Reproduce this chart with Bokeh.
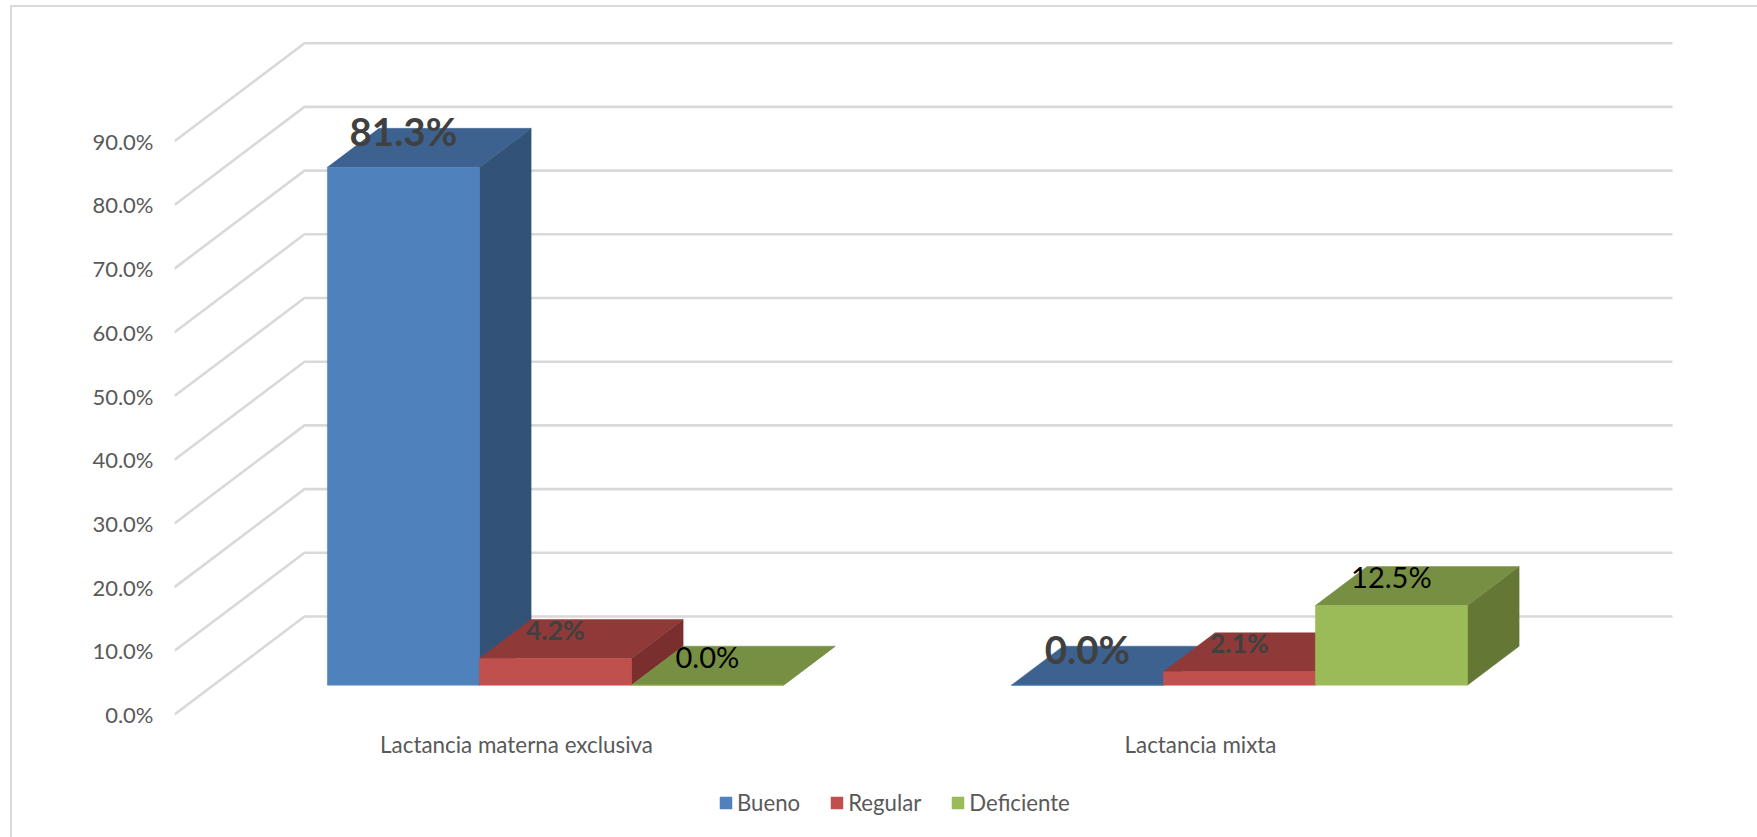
from bokeh.embed import file_html
from bokeh.models import (ColumnDataSource, FixedTicker, InlineStyleSheet, Legend,
                          LegendItem, LinearAxis, PrintfTickFormatter, Range1d)
from bokeh.plotting import figure
from bokeh.resources import INLINE
from bokeh.core.properties import value

categories = ["Lactancia materna exclusiva", "Lactancia mixta"]
bueno = [81.3, 0.0]
regular = [4.2, 2.1]
deficiente = [0.0, 12.5]
y_ticks = [0, 10, 20, 30, 40, 50, 60, 70, 80, 90]

FONT = "Lato"
GRID = "#d9d9d9"
TEXT = "#595959"

# Page layout in pixels
W, H = 1757, 837
LEFT, BASE = 174, 714
PX_PER_CATEGORY = 684.0
PX_PER_PERCENT = 6.37

# Oblique projection: a point at depth d moves right and up
DEPTH_DX = 130.0 / PX_PER_CATEGORY
DEPTH_DY = 98.0 / PX_PER_PERCENT
BAR_FRONT = 0.299
BAR_BACK = 0.697
BAR_WIDTH = 1 / 4.5


def proj(x, y, d):
    return x + d * DEPTH_DX, y + d * DEPTH_DY


# The plot area runs to the page bottom so category names and the legend sit inside it
p = figure(width=W, height=H, output_backend="svg", toolbar_location=None,
           x_range=Range1d(0, (W - LEFT) / PX_PER_CATEGORY),
           y_range=Range1d((BASE - H) / PX_PER_PERCENT, BASE / PX_PER_PERCENT),
           x_axis_type=None, y_axis_type=None,
           min_border_left=LEFT, min_border_right=0, min_border_top=0,
           min_border_bottom=0)
p.outline_line_color = None
p.background_fill_color = "white"
p.border_fill_color = "white"
p.grid.visible = False

# Chart area frame: only its top and left edges fall inside the page
p.stylesheets = [InlineStyleSheet(css=f"""
:host::after {{
  content: "";
  position: absolute;
  left: 10px; top: 5px; right: 0; bottom: 0;
  border-left: 2px solid {GRID};
  border-top: 2px solid {GRID};
  pointer-events: none;
}}
""")]

# Side wall and back wall gridlines
wall_xs, wall_ys = [], []
for v in y_ticks:
    x1, y1 = proj(0, v, 0)
    x2, y2 = proj(0, v, 1)
    x3, y3 = proj(2, v, 1)
    wall_xs.append([x1, x2, x3])
    wall_ys.append([y1, y2, y3])
p.multi_line(wall_xs, wall_ys, line_color=GRID, line_width=2.6)

series = [
    ("Bueno", bueno, "#4f81bd", "#3d6290", "#325278"),
    ("Regular", regular, "#c0504d", "#8f3a38", "#7a2e2d"),
    ("Deficiente", deficiente, "#9bbb59", "#778f42", "#647735"),
]

# Bars, drawn one series at a time so that later faces cover earlier ones
legend_items = []
for s, (name, vals, front, top, side) in enumerate(series):
    fx, fy, tx, ty, sx, sy = [], [], [], [], [], []
    for c, v in enumerate(vals):
        x0 = c + 0.5 + (s - 1.5) * BAR_WIDTH
        x1 = x0 + BAR_WIDTH
        a = proj(x0, 0, BAR_FRONT)
        b = proj(x1, 0, BAR_FRONT)
        c1 = proj(x1, v, BAR_FRONT)
        d = proj(x0, v, BAR_FRONT)
        e = proj(x0, v, BAR_BACK)
        f = proj(x1, v, BAR_BACK)
        g = proj(x1, 0, BAR_BACK)
        sx.append([b[0], g[0], f[0], c1[0]])
        sy.append([b[1], g[1], f[1], c1[1]])
        tx.append([d[0], e[0], f[0], c1[0]])
        ty.append([d[1], e[1], f[1], c1[1]])
        fx.append([a[0], b[0], c1[0], d[0]])
        fy.append([a[1], b[1], c1[1], d[1]])
    p.patches(sx, sy, fill_color=side, line_color=side, line_width=0.5)
    p.patches(tx, ty, fill_color=top, line_color=top, line_width=0.5)
    r = p.patches(fx, fy, fill_color=front, line_color=front, line_width=0.5)
    legend_items.append(LegendItem(label=name, renderers=[r]))

# Value labels
lx, ly, lt, off, size, weight, color = [], [], [], [], [], [], []
label_styles = [
    [("38.5px", "bold", "#404040", -36), ("38.5px", "bold", "#404040", -36)],
    [("26.5px", "bold", "#404040", -28), ("26.5px", "bold", "#404040", -29)],
    [("29px", "normal", "#000000", -29), ("29px", "normal", "#000000", -29)],
]
for s, (name, vals, *_ ) in enumerate(series):
    for c, v in enumerate(vals):
        x0 = c + 0.5 + (s - 1) * BAR_WIDTH
        px, py = proj(x0, v, BAR_FRONT)
        fs, fw, col, dy = label_styles[s][c]
        lx.append(px)
        ly.append(py)
        lt.append(f"{v:.1f}%")
        off.append(dy)
        size.append(fs)
        weight.append(fw)
        color.append(col)
labels = ColumnDataSource(dict(x=lx, y=ly, t=lt, off=off, size=size, weight=weight, color=color))
p.text("x", "y", text="t", source=labels, y_offset="off", text_font=value(FONT),
       text_font_size="size", text_font_style="weight", text_color="color",
       text_align="center", text_baseline="middle")

# Value axis
yaxis = LinearAxis(ticker=FixedTicker(ticks=y_ticks),
                   formatter=PrintfTickFormatter(format="%.1f%%"))
yaxis.axis_line_color = None
yaxis.major_tick_line_color = None
yaxis.minor_tick_line_color = None
yaxis.major_label_standoff = 15
yaxis.major_label_text_font = FONT
yaxis.major_label_text_font_size = "22px"
yaxis.major_label_text_color = TEXT
p.add_layout(yaxis, "left")

# Category names under the floor
p.text([i + 0.5 for i in range(len(categories))], [0] * len(categories), text=categories,
       y_offset=30, text_font=value(FONT), text_font_size="22.4px", text_color=TEXT,
       text_align="center", text_baseline="middle")

legend = Legend(items=legend_items, orientation="horizontal",
                location=(544, 21), border_line_color=None,
                background_fill_alpha=0, glyph_width=15, glyph_height=15,
                label_text_font=FONT, label_text_font_size="22.2px",
                label_text_color=TEXT, spacing=29, label_standoff=4, padding=5,
                margin=0)
p.add_layout(legend)

open("out.html", "w").write(file_html(p, INLINE))
